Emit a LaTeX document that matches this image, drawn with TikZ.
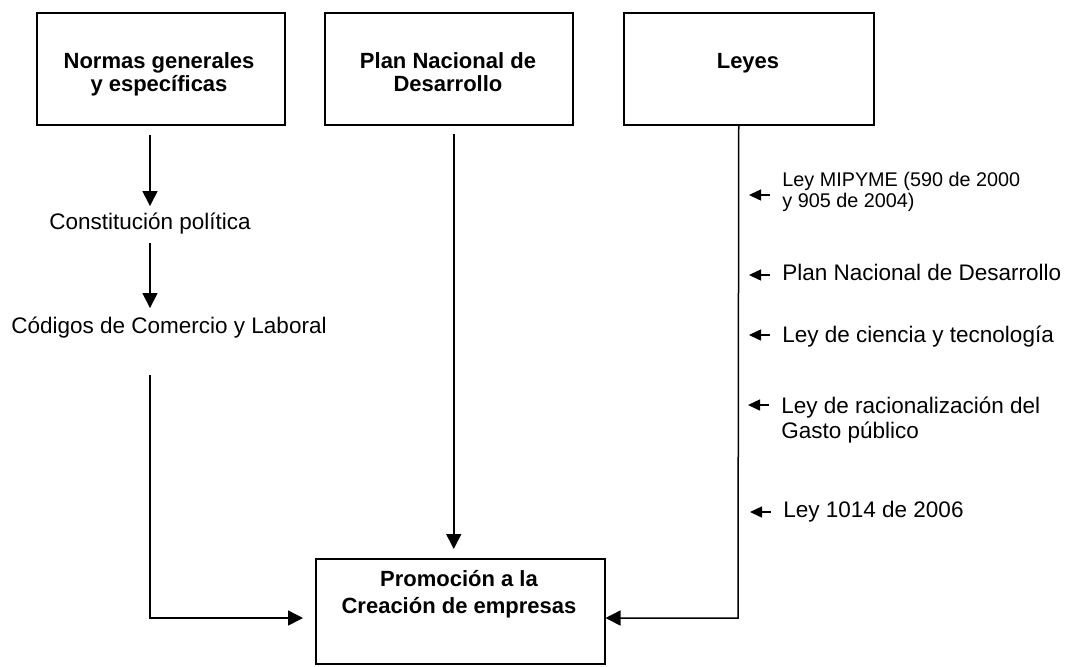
\documentclass[tikz,border=0pt]{standalone}
\usepackage{fontspec}
\setmainfont{Liberation Sans}
\usetikzlibrary{arrows.meta,positioning}

\begin{document}
\begin{tikzpicture}[
  x=0.5pt, y=-0.5pt,
  caja/.style={draw, line width=0.75pt, inner sep=0pt},
  titulo/.style={font=\bfseries\fontsize{11}{11.5}\selectfont, align=center, inner sep=0pt, anchor=base},
  texto/.style={font=\fontsize{11.25}{12.5}\selectfont, inner sep=0pt, anchor=base},
  nota/.style={font=\fontsize{9.9}{10.5}\selectfont, align=left, inner sep=0pt, anchor=base west},
  flecha/.style={line width=0.75pt, -{Triangle[length=7.5pt,width=7.5pt]}},
  flechita/.style={line width=0.75pt, -{Triangle[length=6pt,width=5.5pt]}},
]
\useasboundingbox (0,0) rectangle (1067,666);

% cajas de arriba
\node[caja, minimum width=124pt, minimum height=56pt, anchor=north west] (normas) at (36,12) {};
\node[caja, minimum width=124pt, minimum height=56pt, anchor=north west] (plan) at (324,12) {};
\node[caja, minimum width=125pt, minimum height=56pt, anchor=north west] (leyes) at (623,12) {};
\node[titulo] (normasT) at (159,91) {Normas generales\\y específicas};
\node[titulo] (planT) at (448,91) {Plan Nacional de\\Desarrollo};
\node[titulo] (leyesT) at (748,68) {Leyes};

% caja de abajo
\node[caja, minimum width=144.5pt, minimum height=52.5pt, anchor=north west] (promocion) at (315,558) {};
\node[titulo, font=\bfseries\fontsize{11}{13.5}\selectfont] (promocionT) at (459,613) {Promoción a la\\Creación de empresas};

% columna izquierda
\node[texto] (constitucion) at (150,229) {Constitución política};
\node[texto] (codigos) at (169,333) {Códigos de Comercio y Laboral};

% lista de leyes
\node[nota] (mipyme) at (782,207) {Ley MIPYME (590 de 2000\\y 905 de 2004)};
\node[texto, anchor=base west] (plannal) at (782,280) {Plan Nacional de Desarrollo};
\node[texto, anchor=base west] (ciencia) at (782,342) {Ley de ciencia y tecnología};
\node[texto, anchor=base west, align=left] (gasto) at (781,438) {Ley de racionalización del\\Gasto público};
\node[texto, anchor=base west] (ley1014) at (783,517) {Ley 1014 de 2006};

\coordinate (esqIzq) at (150,618);
\coordinate (esqDer) at (738,618);

% flechas
\draw[flecha, shorten <=4.5pt, shorten >=3pt] (normas.south -| constitucion.north) -- (constitucion.north);
\draw[flecha, shorten <=4.5pt, shorten >=4pt] (constitucion.south) -- (constitucion.south |- codigos.north);
\draw[flecha, shorten <=18.5pt, shorten >=6pt] (codigos.south -| esqIzq) -- (esqIzq) -- (promocion.west |- esqIzq);
\draw[flecha, shorten <=4pt, shorten >=4.5pt] ([xshift=2.5pt]plan.south) -- ([xshift=2.5pt]plan.south |- promocion.north);
\draw[flecha] ([xshift=-5pt]leyes.south) -- (esqDer) -- (promocion.east |- esqDer);

\foreach \n/\dy in {mipyme/6pt, plannal/2.5pt, ciencia/3.5pt, gasto/16.5pt, ley1014/2.5pt}
  \draw[flechita] ([xshift=-6pt, yshift=\dy]\n.base west) -- ++(-21,0);

\end{tikzpicture}
\end{document}
